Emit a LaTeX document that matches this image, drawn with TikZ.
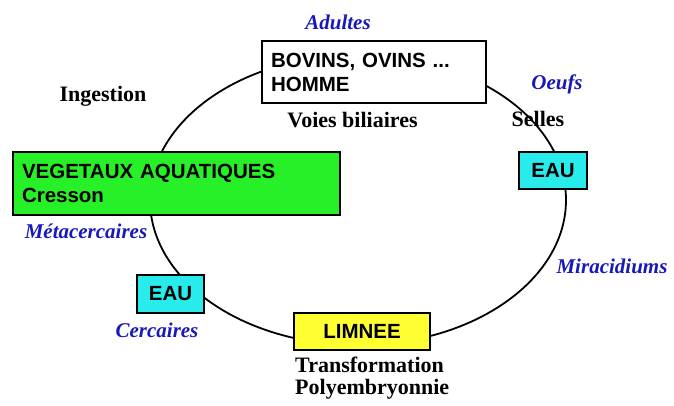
\documentclass[tikz,border=0pt]{standalone}
\usepackage{fontspec}
\setmainfont{Liberation Serif}
\setsansfont{Liberation Sans}
\definecolor{labblue}{RGB}{25,25,185}
\definecolor{boxgreen}{RGB}{40,240,40}
\definecolor{boxcyan}{RGB}{40,235,235}
\definecolor{boxyellow}{RGB}{255,255,50}
\tikzset{
  hostbox/.style={draw=black, line width=1.8pt, rectangle, inner xsep=9pt, inner ysep=0pt,
    font=\sffamily\bfseries\fontsize{20.5}{24}\selectfont, align=left},
  stagelab/.style={text=labblue, font=\bfseries\itshape\fontsize{21}{24}\selectfont, inner sep=0pt},
  steplab/.style={text=black, font=\bfseries\fontsize{22}{22}\selectfont, inner sep=0pt},
  cycleline/.style={draw=black, line width=1.8pt}
}
\begin{document}
\begin{tikzpicture}[x=1pt,y=-1pt]
\useasboundingbox (0,0) rectangle (674,405);
\fill[white] (0,0) rectangle (674,405);
% cycle
\draw[cycleline] (358,200) ellipse [x radius=208, y radius=145];
% boxes
\node[hostbox, fill=white, minimum width=224pt, minimum height=62pt, text width=206pt] (hote) at (374,72)
  {BOVINS, OVINS ...\\HOMME};
\node[hostbox, fill=boxgreen, minimum width=327pt, minimum height=63pt, text width=309pt] (veg) at (176.5,183.5)
  {VEGETAUX AQUATIQUES\\Cresson};
\node[hostbox, fill=boxcyan, minimum width=68pt, minimum height=37pt, inner xsep=0pt, align=center] (eaur) at (553,170.5) {EAU};
\node[hostbox, fill=boxcyan, minimum width=67pt, minimum height=38pt, inner xsep=0pt, align=center] (eaul) at (170.5,294) {EAU};
\node[hostbox, fill=boxyellow, minimum width=136pt, minimum height=37pt, inner xsep=0pt, align=center] (limnee) at (362,331.5) {LIMNEE};
% stage labels
\node[stagelab] (adultes) at (338,22.5) {Adultes};
\node[stagelab] (oeufs) at (557,84) {Oeufs};
\node[stagelab] (mira) at (612,266) {Miracidiums};
\node[stagelab] (meta) at (86,231) {Métacercaires};
\node[stagelab] (cerc) at (157,330) {Cercaires};
% step labels
\node[steplab] (voies) at (352.5,120) {Voies biliaires};
\node[steplab] (ingest) at (103,96) {Ingestion};
\node[steplab] (selles) at (538,118.5) {Selles};
\node[steplab, anchor=north west, align=left] (transf) at (295,357) {Transformation\\Polyembryonnie};
\end{tikzpicture}
\end{document}
